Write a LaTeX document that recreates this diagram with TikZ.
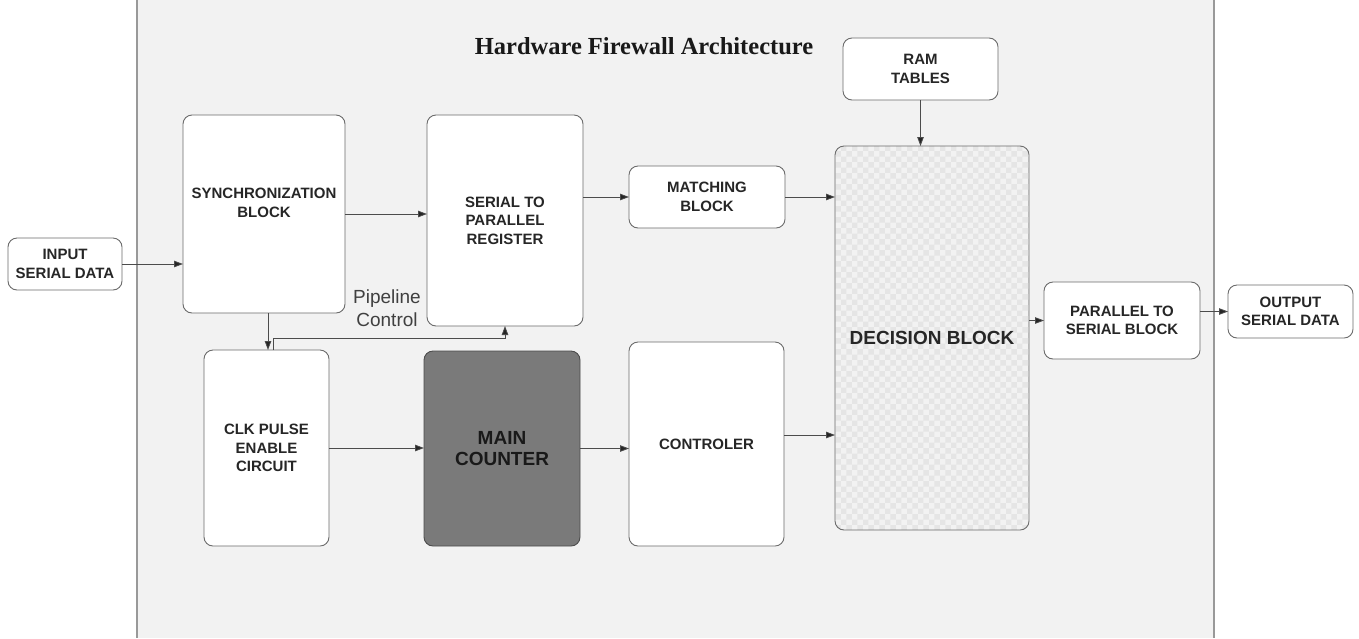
\documentclass[tikz,border=0pt]{standalone}
\usepackage{fontspec}
\setmainfont{Liberation Sans}
\newfontfamily\titlefont{Liberation Serif}
\usetikzlibrary{arrows.meta,patterns,calc}
\begin{document}
\begin{tikzpicture}[x=1pt,y=-1pt,
 blk/.style={draw=black!58, line width=0.9pt, rounded corners=9pt, fill=white, align=center, inner sep=0pt, outer sep=0pt, font=\bfseries\fontsize{15}{18.5}\selectfont, text=black!85},
 arr/.style={draw=black!70, line width=0.8pt, -{Triangle[length=9pt,width=6.5pt,fill=black!85]}},
]
\useasboundingbox (0,0) rectangle (1359,638);
\fill[white] (0,0) rectangle (1359,638);
\fill[black!5] (137,0) rectangle (1214,638);
\draw[black!40, line width=1.5pt] (137,0) -- (137,638) (1214,0) -- (1214,638);

\node[font=\titlefont\bfseries\fontsize{24.5}{27}\selectfont, text=black!90] (title) at (644,46) {Hardware Firewall Architecture};

\node[blk, minimum width=114pt, minimum height=52pt] (in) at (65,264) {INPUT\\SERIAL DATA};
\node[blk, minimum width=162pt, minimum height=198pt] (sync) at (264,214) {};
\node[font=\bfseries\fontsize{15}{18.5}\selectfont, text=black!85, align=center] (synct) at (264,203) {SYNCHRONIZATION\\BLOCK};
\node[blk, minimum width=156pt, minimum height=211pt] (ser) at (505,220.5) {SERIAL TO\\PARALLEL\\REGISTER};
\node[blk, minimum width=156pt, minimum height=62pt] (match) at (707,197) {MATCHING\\BLOCK};
\node[blk, minimum width=155pt, minimum height=62pt] (ram) at (920.5,69) {RAM\\TABLES};
\node[blk, minimum width=194pt, minimum height=384pt, pattern=checkerboard, pattern color=black!10, font=\bfseries\fontsize{19}{22}\selectfont] (dec) at (932,338) {DECISION BLOCK};
\node[blk, minimum width=156pt, minimum height=77pt] (p2s) at (1122,320.5) {PARALLEL TO\\SERIAL BLOCK};
\node[blk, minimum width=125pt, minimum height=53pt] (out) at (1290.5,311.5) {OUTPUT\\SERIAL DATA};
\node[blk, minimum width=125pt, minimum height=196pt] (clk) at (266.5,448) {CLK PULSE\\ENABLE\\CIRCUIT};
\node[blk, minimum width=156pt, minimum height=195pt, fill=black!52, draw=black!70, font=\bfseries\fontsize{19}{21}\selectfont, text=black!90] (main) at (502,448.5) {MAIN\\COUNTER};
\node[blk, minimum width=155pt, minimum height=204pt] (ctrl) at (706.5,444) {CONTROLER};

\node[font=\fontsize{19}{23}\selectfont, text=black!75, align=center] (pl) at (387,308) {Pipeline\\Control};

\draw[arr] (in.east) -- (in.east -| sync.west);
\draw[arr] (sync.east) -- (sync.east -| ser.west);
\draw[arr] (match.west -| ser.east) -- (match.west);
\draw[arr] (match.east) -- (match.east -| dec.west);
\draw[arr] (ram.south) -- (ram.south |- dec.north);
\draw[arr] (p2s.west -| dec.east) -- (p2s.west);
\draw[arr] (out.west -| p2s.east) -- (out.west);
\draw[arr] ([xshift=4pt]sync.south) -- ([xshift=4pt]sync.south |- clk.north);
\coordinate (pp) at (505,338);
\draw[arr] ([xshift=7pt]clk.north) |- (pp) -- (pp |- ser.south);
\draw[arr] (clk.east) -- (clk.east -| main.west);
\draw[arr] (main.east) -- (main.east -| ctrl.west);
\draw[arr] ([yshift=9pt]ctrl.east) -- ([yshift=9pt]ctrl.east -| dec.west);
\end{tikzpicture}
\end{document}
